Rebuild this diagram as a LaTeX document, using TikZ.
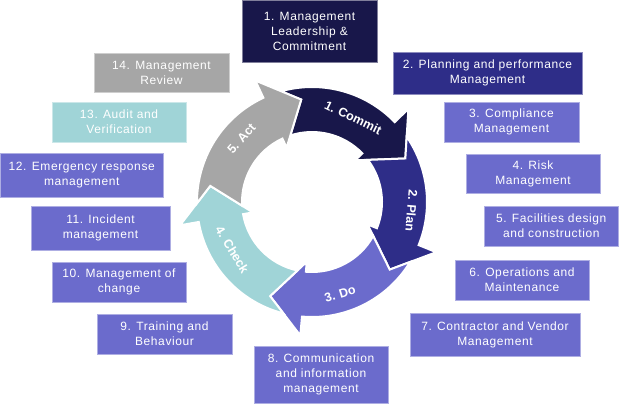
\documentclass[tikz,border=0pt]{standalone}
\usepackage{fontspec}
\setmainfont{Liberation Sans}
\newfontfamily\boxfont{Liberation Sans}[LetterSpace=5]
\definecolor{cnavy}{HTML}{18174A}
\definecolor{cplan}{HTML}{2E2D88}
\definecolor{cdo}{HTML}{6B6BCC}
\definecolor{ccheck}{HTML}{A0D4D7}
\definecolor{cact}{HTML}{A6A6A6}
\tikzset{
  ibox/.style={draw=#1!55!white, fill=#1, line width=0.8pt, inner sep=0pt, outer sep=0pt,
    align=center, text=white, font=\boxfont\fontsize{12}{15}\selectfont},
  ringarrow/.style={fill=#1, draw=white, line width=2pt, line join=miter},
  ringlabel/.style={text=white, font=\bfseries\fontsize{12.5}{14}\selectfont, inner sep=0pt},
}
\def\Ro{115}\def\Ri{70}\def\Rm{103}\def\Rho{134}\def\Rhi{60}
\newcommand\cyclearrow[3]{%
  \pgfmathsetmacro\ta{#2-9.4}\pgfmathsetmacro\tb{#2-7}\pgfmathsetmacro\tn{#2-19}%
  \pgfmathsetmacro\hb{#3-19}%
  \path[ringarrow=#1] (\ta:\Ro) arc[start angle=\ta, end angle=#3, radius=\Ro]
    -- (#3:\Rho) -- (\hb:\Rm) -- (#3:\Rhi) -- (#3:\Ri)
    arc[start angle=#3, end angle=\tb, radius=\Ri] -- (\tn:\Rm) -- cycle;}
\newcommand\infobox[7]{%
  \node[ibox=#6, minimum width={(#4-#2)*1pt}, minimum height={(#5-#3)*1pt}]
    (#1) at ({(#2+#4)/2},{(#3+#5)/2}) {#7};}
\begin{document}
\begin{tikzpicture}[x=1pt,y=-1pt]
\useasboundingbox (0,0) rectangle (619,405);
\begin{scope}[shift={(312,202)}, yscale=-1]
  \cyclearrow{cnavy}{115}{44}
  \cyclearrow{cplan}{44}{-22}
  \cyclearrow{cdo}{-22}{-95}
  \cyclearrow{ccheck}{-95}{-170}
  \cyclearrow{cact}{190}{115}
  \node[ringlabel, rotate=-26] (lcommit) at (64:94) {1. Commit};
  \node[ringlabel, rotate=-95] (lplan) at (-5:100) {2. Plan};
  \node[ringlabel, rotate=17] (ldo) at (-73:96) {3. Do};
  \node[ringlabel, rotate=-59] (lcheck) at (211:93) {4. Check};
  \node[ringlabel, rotate=48] (lact) at (138:95) {5. Act};
\end{scope}
\infobox{b1}{242}{0.5}{377}{62}{cnavy}{1. Management\\Leadership \&\\Commitment}
\infobox{b2}{393}{52}{582}{94}{cplan}{2. Planning and performance\\Management}
\infobox{b3}{444}{102}{579}{142}{cdo}{3. Compliance\\Management}
\infobox{b4}{466}{154}{600}{193}{cdo}{4. Risk\\Management}
\infobox{b5}{484}{206}{618.5}{246}{cdo}{5. Facilities design\\and construction}
\infobox{b6}{455}{260}{589}{300}{cdo}{6. Operations and\\Maintenance}
\infobox{b7}{410}{313}{580}{356}{cdo}{7. Contractor and Vendor\\Management}
\infobox{b8}{254}{346}{388}{403}{cdo}{8. Communication\\and information\\management}
\infobox{b9}{97}{314}{232}{354}{cdo}{9. Training and\\Behaviour}
\infobox{b10}{52}{262}{186}{302}{cdo}{10. Management of\\change}
\infobox{b11}{31}{206}{170}{250}{cdo}{11. Incident\\management}
\infobox{b12}{0.5}{153}{163}{197}{cdo}{12. Emergency response\\management}
\infobox{b13}{52}{102}{186}{142}{ccheck}{13. Audit and\\Verification}
\infobox{b14}{94}{53}{229}{92}{cact}{14. Management\\Review}
\end{tikzpicture}
\end{document}
